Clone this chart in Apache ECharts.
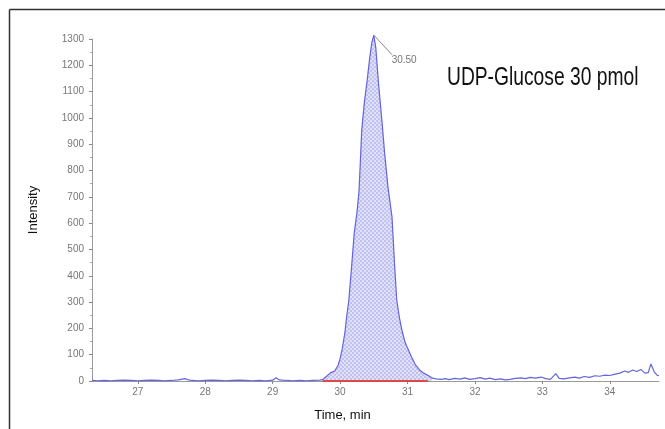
<!DOCTYPE html>
<html>
<head>
<meta charset="utf-8">
<script src="https://cdn.jsdelivr.net/npm/echarts@6/dist/echarts.min.js"></script>
<style>
  html, body { margin: 0; padding: 0; background: #fff; }
  #chart { width: 665px; height: 429px; }
</style>
</head>
<body>
<div id="chart"></div>
<script>
// Extracted ion chromatogram: retention time (min) vs. intensity
const times = [
  26.32, 26.4, 26.5, 26.6, 26.7, 26.8, 26.9, 27.0, 27.1, 27.2, 27.3, 27.4, 27.5, 27.6, 27.7, 27.75,
  27.8, 27.9, 28.0, 28.1, 28.2, 28.3, 28.4, 28.5, 28.6, 28.7, 28.8, 28.9, 29.0, 29.05, 29.1, 29.2,
  29.3, 29.4, 29.5, 29.6, 29.7, 29.74, 29.8, 29.86, 29.92, 29.97, 30.0, 30.03, 30.07, 30.1, 30.13,
  30.17, 30.21, 30.25, 30.28, 30.3, 30.32, 30.36, 30.4, 30.44, 30.47, 30.5, 30.53, 30.57, 30.62,
  30.66, 30.71, 30.77, 30.81, 30.84, 30.88, 30.92, 30.96, 31.0, 31.06, 31.12, 31.18, 31.24, 31.3,
  31.36, 31.42, 31.5, 31.56, 31.62, 31.7, 31.78, 31.85, 31.92, 32.0, 32.08, 32.15, 32.22, 32.3,
  32.38, 32.45, 32.52, 32.6, 32.68, 32.75, 32.82, 32.9, 32.98, 33.05, 33.12, 33.2, 33.25, 33.32,
  33.4, 33.48, 33.55, 33.62, 33.7, 33.78, 33.85, 33.92, 34.0, 34.08, 34.15, 34.22, 34.28, 34.34,
  34.4, 34.46, 34.52, 34.57, 34.61, 34.66, 34.7, 34.73
];
const intensity = [
  2, 1, 2, 1, 2, 3, 2, 1, 2, 3, 2, 1, 2, 4, 9, 4,
  2, 1, 2, 3, 2, 1, 2, 3, 2, 1, 2, 1, 3, 12, 4, 2,
  1, 2, 1, 2, 3, 5, 18, 32, 38, 60, 85, 120, 182, 250, 308,
  433, 563, 640, 720, 830, 950, 1060, 1140, 1230, 1285, 1315, 1265, 1130, 990,
  867, 737, 623, 433, 308, 240, 190, 150, 125, 91, 60, 42, 30, 22,
  12, 8, 6, 9, 5, 10, 7, 12, 6, 9, 13, 7, 11, 5,
  8, 4, 6, 10, 12, 9, 14, 11, 15, 9, 6, 28, 10, 8,
  12, 15, 11, 17, 14, 20, 18, 22, 21, 26, 30, 38, 33, 42,
  36, 44, 30, 32, 65, 35, 22, 20
];

// Integration window of the peak and its apex annotation
const peakStart = 29.74;
const peakEnd = 31.36;
const baselineEnd = 31.3;
const apexTime = 30.5;
const apexIntensity = 1315;
const apexLabel = '30.50';
const leaderEnd = [30.77, 1240];
const labelAt = [30.95, 1220];

// Axis tick values
const timeTicks = [27, 28, 29, 30, 31, 32, 33, 34];
const intensityMin = 0;
const intensityMax = 1300;
const intensityStep = 100;

const title = 'UDP-Glucose 30 pmol';
const xName = 'Time, min';
const yName = 'Intensity';

const trace = times.map((t, i) => [t, intensity[i]]);
const peakArea = trace.filter(p => p[0] >= peakStart && p[0] <= peakEnd);

// Cross-hatched fill for the integrated peak
function hatchPattern() {
  const c = document.createElement('canvas');
  c.width = 4; c.height = 4;
  const g = c.getContext('2d');
  g.fillStyle = '#e0e0f9';
  g.fillRect(0, 0, 4, 4);
  g.fillStyle = '#c2c2f1';
  g.fillRect(0, 0, 2, 2);
  g.fillRect(2, 2, 2, 2);
  return c;
}

const SANS = '"Liberation Sans", Arial, sans-serif';

const chart = echarts.init(document.getElementById('chart'), null, { renderer: 'canvas' });
chart.setOption({
  animation: false,
  backgroundColor: '#fff',
  grid: { left: 92, right: 6, top: 39, bottom: 48 },
  xAxis: {
    type: 'value',
    min: 26.32,
    max: 34.73,
    name: xName,
    nameLocation: 'middle',
    nameGap: 28,
    nameTextStyle: { color: '#111', fontSize: 13, fontFamily: SANS, padding: [0, 66, 0, 0] },
    axisLine: { lineStyle: { color: '#9a9a9a', width: 1 } },
    axisTick: { show: true, customValues: timeTicks, length: 3, lineStyle: { color: '#888' } },
    axisLabel: { customValues: timeTicks, color: '#777', fontSize: 10, margin: 6, fontFamily: SANS },
    splitLine: { show: false }
  },
  yAxis: {
    type: 'value',
    min: intensityMin,
    max: intensityMax,
    interval: intensityStep,
    name: yName,
    nameLocation: 'middle',
    nameGap: 52,
    nameTextStyle: { color: '#111', fontSize: 13, fontFamily: SANS },
    axisLine: { show: true, lineStyle: { color: '#9a9a9a', width: 1 } },
    axisTick: { show: true, length: 3, lineStyle: { color: '#888' } },
    minorTick: { show: true, splitNumber: 2, length: 2, lineStyle: { color: '#aaa' } },
    axisLabel: { color: '#777', fontSize: 10, margin: 8, fontFamily: SANS, formatter: v => String(v) },
    splitLine: { show: false }
  },
  series: [
    {
      name: 'area',
      type: 'line',
      data: peakArea,
      symbol: 'none',
      silent: true,
      clip: false,
      lineStyle: { width: 0, opacity: 0 },
      areaStyle: { color: { image: hatchPattern(), repeat: 'repeat' }, opacity: 1 },
      z: 1
    },
    {
      name: 'baseline',
      type: 'line',
      data: [[peakStart, 0], [baselineEnd, 0]],
      symbol: 'none',
      silent: true,
      lineStyle: { color: '#e04848', width: 2 },
      z: 2
    },
    {
      name: 'trace',
      type: 'line',
      data: trace,
      symbol: 'none',
      silent: true,
      clip: false,
      lineStyle: { color: '#6464dc', width: 1.2 },
      z: 3
    },
    {
      name: 'apex',
      type: 'line',
      data: [[apexTime, apexIntensity], leaderEnd],
      symbol: 'none',
      silent: true,
      clip: false,
      lineStyle: { color: '#8a8a8a', width: 1 },
      z: 4,
      markPoint: {
        silent: true,
        symbol: 'circle',
        symbolSize: 0,
        data: [{ coord: labelAt }],
        label: {
          show: true,
          formatter: apexLabel,
          color: '#777',
          fontSize: 10,
          fontFamily: SANS
        }
      }
    }
  ],
  graphic: [
    { type: 'line', shape: { x1: 9.5, y1: 9.5, x2: 665, y2: 9.5 }, style: { stroke: '#333', lineWidth: 1.5 } },
    { type: 'line', shape: { x1: 9.5, y1: 9.5, x2: 9.5, y2: 429 }, style: { stroke: '#333', lineWidth: 1.5 } },
    {
      type: 'text',
      x: 447,
      y: 78,
      scaleX: 0.74,
      style: { text: title, fill: '#111', fontSize: 26, fontFamily: SANS, textVerticalAlign: 'middle', verticalAlign: 'middle' }
    }
  ]
});
</script>
</body>
</html>
